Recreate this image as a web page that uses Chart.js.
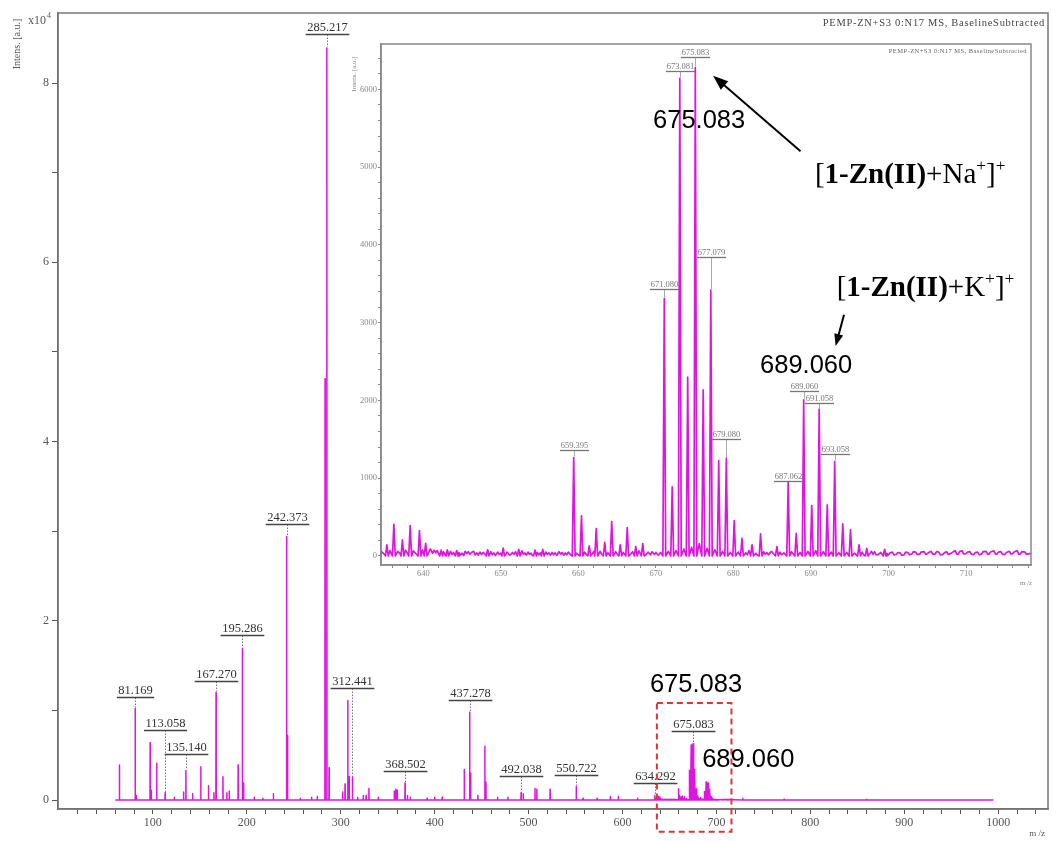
<!DOCTYPE html>
<html lang="en">
<head>
  <meta charset="UTF-8">
  <title>PEMP-ZN+S3 MS</title>
  <script src="https://cdn.jsdelivr.net/npm/chart.js"></script>
  <style>
    * { box-sizing: border-box; }
    body { margin: 0; background: #fff; }
    #wrap { position: relative; width: 1052px; height: 841px; }
    #main { position: absolute; left: 0; top: 0; }
    #inset { position: absolute; left: 340px; top: 36px; background: #fff; }
  </style>
</head>
<body>
  <div id="wrap">
    <canvas id="main" width="1052" height="841"></canvas>
    <canvas id="inset" width="705" height="560"></canvas>
  </div>

  <script>
    // ---- data (m/z, intensity in a.u.) ----
    const scanRange = [60, 995];

    const lowMassPeaks = [
      [64.4, 3900], [81.169, 10200], [82.4, 500], [97.1, 6400], [98.3, 1100], [104.1, 4100],
      [113.058, 800], [122.8, 300], [132.7, 900], [135.140, 3300], [142.3, 700], [151.0, 3700],
      [159.2, 1600], [165.0, 800], [167.270, 12000], [174.6, 2600], [178.8, 800], [181.3, 1000],
      [190.8, 3900], [195.286, 16900], [196.6, 1900], [208.0, 300], [217.0, 200], [228.3, 700],
      [242.373, 29400], [243.4, 7200], [257.0, 200], [269.0, 300], [275.0, 400], [283.3, 47000],
      [285.217, 83900], [287.6, 3600], [302.0, 900], [304.6, 1800], [307.5, 11100], [308.9, 2600],
      [312.441, 2600], [318.0, 300], [324.0, 500], [327.0, 500], [330.0, 1300], [340.0, 300],
      [357.0, 1000], [358.6, 1200], [360.2, 1100], [368.502, 1900], [371.0, 500], [374.0, 300],
      [392.0, 200], [400.0, 300], [408.0, 300], [431.5, 3400], [437.278, 9800], [438.3, 3000],
      [446.0, 500], [453.4, 6000], [454.6, 2000], [467.0, 300], [478.0, 300], [492.038, 800],
      [494.3, 700], [506.8, 1300], [508.8, 1200], [522.9, 1200], [550.722, 1500], [558.0, 200],
      [573.0, 200], [587.0, 400], [595.5, 400], [616.0, 200], [634.292, 500]
    ];

    const clusterPeaks = [
      [635.3, 142], [636.2, 408], [637.3, 206], [638.3, 390], [639.5, 326], [640.3, 163],
      [642.3, 75], [643.1, 80], [644.3, 70], [648.3, 80], [650.3, 100], [652.3, 85],
      [654.4, 75], [655.4, 85], [659.395, 1266], [660.4, 515], [661.4, 130], [662.3, 352],
      [663.4, 176], [664.3, 442], [665.4, 142], [666.3, 365], [667.4, 120], [668.3, 159],
      [671.080, 3310], [672.1, 890], [673.081, 6140], [674.1, 2300], [675.083, 6280],
      [676.1, 2136], [677.079, 3420], [678.1, 1225], [679.080, 1257], [680.1, 455],
      [681.1, 227], [682.4, 142], [683.5, 283], [685.6, 120], [687.062, 944], [688.1, 292],
      [689.060, 2008], [690.1, 648], [691.058, 1888], [692.1, 656], [693.058, 1214],
      [694.1, 412], [695.1, 335], [696.2, 142], [697.2, 99], [699.5, 86]
    ];

    const highMassPeaks = [[728.0, 200], [772.0, 100], [860.0, 80]];

    const baselineNoise = [
      [634.6, 55], [635.0, 20], [635.7, 70], [636.7, 60], [637.0, 30], [637.7, 75], [638.0, 25],
      [638.7, 65], [639.0, 35], [639.9, 80], [640.9, 90], [641.2, 35], [641.4, 75], [641.6, 40],
      [641.8, 70], [642.0, 20], [642.6, 55], [642.8, 15], [643.5, 60], [643.7, 20], [643.9, 45],
      [644.6, 45], [644.8, 10], [645.0, 35], [645.2, 5], [645.4, 60], [645.6, 30], [645.8, 55],
      [646.0, 20], [646.2, 45], [646.5, 60], [646.7, 15], [646.9, 40], [647.1, 10], [647.3, 50],
      [647.5, 20], [647.7, 45], [648.0, 20], [648.7, 55], [648.9, 15], [649.1, 40], [649.3, 5],
      [649.6, 50], [649.8, 20], [650.0, 35], [650.6, 15], [650.8, 50], [651.0, 25], [651.2, 10],
      [651.5, 45], [651.7, 20], [651.9, 55], [652.0, 30], [652.7, 65], [652.9, 20], [653.1, 40],
      [653.3, 10], [653.5, 50], [653.7, 20], [653.9, 35], [654.1, 5], [654.7, 45], [654.9, 15],
      [655.1, 40], [655.8, 50], [656.0, 20], [656.2, 40], [656.4, 10], [656.6, 45], [656.8, 15],
      [657.0, 40], [657.2, 10], [657.5, 55], [657.7, 25], [657.9, 45], [658.1, 10], [658.3, 40],
      [658.5, 15], [658.7, 50], [658.9, 25], [659.8, 35], [660.0, 15], [660.8, 50], [661.0, 20],
      [661.8, 30], [662.0, 60], [662.8, 60], [663.0, 25], [663.8, 40], [664.0, 15], [664.8, 55],
      [665.0, 25], [665.8, 45], [666.0, 20], [666.8, 30], [667.0, 55], [667.8, 65], [668.0, 30],
      [668.8, 25], [669.0, 50], [669.3, 15], [669.5, 55], [669.8, 20], [670.0, 45], [670.3, 10],
      [670.6, 45], [671.6, 60], [672.6, 70], [673.6, 90], [674.6, 110], [675.6, 160], [676.6, 100],
      [677.6, 80], [678.6, 60], [679.6, 45], [680.6, 50], [680.8, 20], [681.6, 40], [681.8, 15],
      [682.0, 70], [682.9, 35], [683.1, 10], [683.9, 55], [684.1, 20], [684.3, 45], [684.5, 15],
      [684.9, 60], [685.2, 25], [686.0, 50], [686.2, 15], [686.5, 40], [687.5, 55], [688.6, 45],
      [689.6, 60], [690.6, 70], [691.6, 55], [692.6, 50], [693.6, 40], [694.6, 45], [695.6, 35],
      [696.6, 50], [696.8, 15], [697.6, 30], [697.8, 60], [698.0, 20], [698.2, 55], [698.4, 15],
      [698.7, 20], [699.0, 45], [699.8, 35], [700.0, 15], [700.2, 40], [700.5, 50], [700.7, 15],
      [701.0, 20], [701.2, 45], [701.5, 40], [701.7, 10], [702.0, 15], [702.2, 50], [702.5, 45],
      [702.7, 15], [703.0, 25], [703.2, 55], [703.5, 50], [703.7, 20], [704.0, 20], [704.2, 50],
      [704.6, 55], [704.8, 20], [705.0, 30], [705.2, 45], [705.5, 60], [705.7, 25], [706.0, 25],
      [706.2, 55], [706.5, 50], [706.7, 15], [707.0, 20], [707.2, 40], [707.5, 55], [707.7, 20],
      [708.0, 30], [708.3, 50], [708.6, 70], [708.8, 25], [709.0, 25], [709.2, 60], [709.5, 65],
      [709.7, 25], [710.0, 30], [710.2, 50], [710.5, 55], [710.7, 20], [711.0, 20], [711.2, 45],
      [711.5, 50], [711.7, 15], [712.0, 25], [712.2, 55], [712.6, 60], [712.8, 20], [713.0, 30],
      [713.2, 55], [713.6, 65], [713.8, 25], [714.0, 25], [714.2, 50], [714.5, 55], [714.7, 20],
      [715.0, 20], [715.2, 45], [715.6, 60], [715.8, 25], [716.0, 30], [716.2, 50], [716.6, 70],
      [716.8, 25], [717.0, 25], [717.2, 55], [717.6, 50], [717.8, 20], [718.2, 30]
    ];

    // labelled peaks and the height of their label bar
    const mainLabelMz = [81.169, 113.058, 135.140, 167.270, 195.286, 242.373, 285.217,
                         312.441, 368.502, 437.278, 492.038, 550.722, 634.292, 675.083];
    const mainLabelLevel = [11520, 7800, 5130, 13300, 18400, 30800, 85440,
                            12500, 3270, 11150, 2700, 2800, 1860, 7730];
    const insetLabelMz = [659.395, 671.080, 673.081, 675.083, 677.079, 679.080,
                          687.062, 689.060, 691.058, 693.058];
    const insetLabelLevel = [1364, 3432, 6234, 6413, 3839, 1506, 969, 2115, 1973, 1313];

    // axes
    const mainXLabels = [100, 200, 300, 400, 500, 600, 700, 800, 900, 1000];
    const mainYLabels = [0, 20000, 40000, 60000, 80000];
    const insetXLabels = [640, 650, 660, 670, 680, 690, 700, 710];
    const insetYLabels = [0, 1000, 2000, 3000, 4000, 5000, 6000];

    const titleText = 'PEMP-ZN+S3 0:N17 MS, BaselineSubtracted';

    // ---- helpers ----
    const PEAK_HW = 0.18;
    const MAGENTA = '#e014e0';
    const SERIF = '"Liberation Serif", "Times New Roman", serif';
    const SANS = '"Liberation Sans", Arial, sans-serif';
    const allPeaks = lowMassPeaks.concat(clusterPeaks, highMassPeaks);

    function stepTicks(from, to, step) {
      const t = [];
      for (let v = from; v <= to + 1e-9; v += step) t.push(Math.round(v * 1000) / 1000);
      return t;
    }

    function spectrumPoints() {
      const pts = [{ x: scanRange[0], y: 0 }, { x: scanRange[1], y: 0 }];
      allPeaks.forEach(([mz, h]) => {
        pts.push({ x: mz - PEAK_HW, y: 0 }, { x: mz, y: h }, { x: mz + PEAK_HW, y: 0 });
      });
      baselineNoise.forEach(([mz, h]) => {
        if (!allPeaks.some(p => Math.abs(p[0] - mz) < PEAK_HW * 1.3)) pts.push({ x: mz, y: h });
      });
      return pts.sort((a, b) => a.x - b.x);
    }

    const peakHeight = mz => (allPeaks.find(p => Math.abs(p[0] - mz) < 0.001) || [mz, 0])[1];

    function drawPeakLabels(chart, mzs, levels, o) {
      const { ctx, scales: { x, y } } = chart;
      ctx.save();
      ctx.font = o.font;
      mzs.forEach((mz, i) => {
        const px = Math.round(x.getPixelForValue(mz)) + 0.5;
        const top = y.getPixelForValue(peakHeight(mz));
        const bar = Math.round(y.getPixelForValue(levels[i])) + 0.5;
        const txt = mz.toFixed(3);
        const w = ctx.measureText(txt).width + o.pad;
        ctx.strokeStyle = o.lineColor;
        ctx.lineWidth = 1;
        ctx.setLineDash(o.dash);
        ctx.beginPath(); ctx.moveTo(px, bar); ctx.lineTo(px, top - 1); ctx.stroke();
        ctx.setLineDash([]);
        ctx.strokeStyle = o.barColor;
        ctx.lineWidth = o.barWidth;
        ctx.beginPath(); ctx.moveTo(px - w / 2, bar); ctx.lineTo(px + w / 2, bar); ctx.stroke();
        ctx.fillStyle = o.textColor;
        ctx.textAlign = 'center';
        ctx.textBaseline = 'alphabetic';
        ctx.fillText(txt, px, bar - o.gap);
      });
      ctx.restore();
    }

    function drawRich(ctx, runs, x, y, size) {
      let cx = x;
      ctx.textAlign = 'left';
      ctx.textBaseline = 'alphabetic';
      runs.forEach(r => {
        const s = r.sup ? size * 0.6 : size;
        ctx.font = (r.bold ? 'bold ' : '') + s + 'px ' + SERIF;
        ctx.fillText(r.t, cx, r.sup ? y - size * 0.4 : y);
        cx += ctx.measureText(r.t).width;
      });
    }

    function drawArrow(ctx, x1, y1, x2, y2, head) {
      const a = Math.atan2(y2 - y1, x2 - x1);
      const c = Math.cos(a), s = Math.sin(a);
      ctx.beginPath();
      ctx.moveTo(x1, y1);
      ctx.lineTo(x2 - head * 0.8 * c, y2 - head * 0.8 * s);
      ctx.stroke();
      ctx.beginPath();
      ctx.moveTo(x2, y2);
      ctx.lineTo(x2 - head * c + head * 0.38 * s, y2 - head * s - head * 0.38 * c);
      ctx.lineTo(x2 - head * c - head * 0.38 * s, y2 - head * s + head * 0.38 * c);
      ctx.closePath();
      ctx.fill();
    }

    function frame(color, width) {
      return {
        id: 'frame',
        afterDraw(chart) {
          const { ctx, chartArea: a } = chart;
          ctx.save();
          ctx.strokeStyle = color;
          ctx.lineWidth = width;
          ctx.strokeRect(a.left, a.top, a.right - a.left, a.bottom - a.top);
          ctx.restore();
        }
      };
    }

    function axisOptions(o) {
      return {
        type: 'linear',
        min: o.min,
        max: o.max,
        afterBuildTicks: s => { s.ticks = o.ticks.map(v => ({ value: v })); },
        afterFit: o.fit,
        ticks: {
          autoSkip: false,
          maxRotation: 0,
          padding: o.padding,
          color: o.color,
          font: { family: SERIF, size: o.size },
          callback: o.label
        },
        grid: { drawOnChartArea: false, drawTicks: true, tickLength: o.tickLength, color: o.color, lineWidth: 1 },
        border: { color: o.border, width: 1.5 }
      };
    }

    const spectrum = spectrumPoints();

    // ---- main spectrum ----
    const mainNotes = {
      id: 'mainNotes',
      afterDraw(chart) {
        const { ctx, scales: { x, y } } = chart;
        drawPeakLabels(chart, mainLabelMz, mainLabelLevel, {
          font: '12.5px ' + SERIF, pad: 3, gap: 4, textColor: '#333',
          barColor: '#444', barWidth: 1.6, lineColor: '#777', dash: [1.5, 1.5]
        });
        ctx.save();
        // dashed box round the 675 cluster
        ctx.strokeStyle = '#e03434';
        ctx.lineWidth = 2;
        ctx.setLineDash([6, 4]);
        const bx1 = x.getPixelForValue(636.6), bx2 = x.getPixelForValue(716);
        const by1 = y.getPixelForValue(10820), by2 = y.getPixelForValue(-3537);
        ctx.strokeRect(bx1, by1, bx2 - bx1, by2 - by1);
        ctx.setLineDash([]);
        ctx.fillStyle = '#000';
        ctx.font = '25.5px ' + SANS;
        ctx.textAlign = 'left';
        ctx.fillText('675.083', x.getPixelForValue(629.2), y.getPixelForValue(12084));
        ctx.fillText('689.060', x.getPixelForValue(684.8), y.getPixelForValue(3715));
        // captions
        ctx.fillStyle = '#555';
        ctx.font = '10px ' + SERIF;
        ctx.save();
        ctx.translate(20, 44);
        ctx.rotate(-Math.PI / 2);
        ctx.textAlign = 'center';
        ctx.fillText('Intens. [a.u.]', 0, 0);
        ctx.restore();
        ctx.font = '12px ' + SERIF;
        ctx.fillText('x10', 28, 24);
        ctx.font = '8px ' + SERIF;
        ctx.fillText('4', 47, 18);
        ctx.font = '9px ' + SERIF;
        ctx.textAlign = 'center';
        ctx.fillText('m /z', 1037, 836);
        ctx.font = '10.5px ' + SERIF;
        ctx.textAlign = 'right';
        ctx.letterSpacing = '0.7px';
        ctx.fillStyle = '#444';
        ctx.fillText(titleText, 1045, 26);
        ctx.restore();
      }
    };

    new Chart(document.getElementById('main'), {
      type: 'line',
      data: {
        datasets: [{
          data: spectrum,
          borderColor: MAGENTA,
          borderWidth: 1.5,
          borderJoinStyle: 'round',
          pointRadius: 0,
          tension: 0,
          fill: false
        }]
      },
      options: {
        responsive: false,
        animation: false,
        events: [],
        parsing: false,
        layout: { padding: { left: 0, right: 4, top: 13, bottom: 0 } },
        plugins: { legend: { display: false }, tooltip: { enabled: false } },
        scales: {
          x: axisOptions({
            min: -1, max: 1053, ticks: stepTicks(20, 1040, 20), padding: 2, size: 12,
            color: '#555', border: '#666', tickLength: 5,
            fit: s => { s.height = 32; },
            label: v => mainXLabels.includes(v) ? String(v) : ''
          }),
          y: axisOptions({
            min: -1000, max: 87810, ticks: stepTicks(0, 80000, 10000), padding: 3, size: 12,
            color: '#555', border: '#666', tickLength: 6,
            fit: s => { s.width = 58; },
            label: v => mainYLabels.includes(v) ? String(v / 10000) : ''
          })
        }
      },
      plugins: [frame('#777', 1.5), mainNotes]
    });

    // ---- inset: zoom on the 675 cluster ----
    const insetNotes = {
      id: 'insetNotes',
      afterDraw(chart) {
        const { ctx, scales: { x, y } } = chart;
        drawPeakLabels(chart, insetLabelMz, insetLabelLevel, {
          font: '8.5px ' + SERIF, pad: 1.5, gap: 2.5, textColor: '#777',
          barColor: '#777', barWidth: 1.3, lineColor: '#aaa', dash: []
        });
        ctx.save();
        ctx.fillStyle = '#000';
        ctx.strokeStyle = '#000';
        ctx.lineWidth = 2;
        ctx.font = '25.5px ' + SANS;
        ctx.textAlign = 'left';
        ctx.fillText('675.083', x.getPixelForValue(669.63), y.getPixelForValue(5506));
        ctx.fillText('689.060', x.getPixelForValue(683.43), y.getPixelForValue(2353));
        drawRich(ctx, [{ t: '[' }, { t: '1-Zn(II)', bold: true }, { t: '+Na' }, { t: '+', sup: true },
                       { t: ']' }, { t: '+', sup: true }],
                 x.getPixelForValue(690.51), y.getPixelForValue(4796), 29);
        drawRich(ctx, [{ t: '[' }, { t: '1-Zn(II)', bold: true }, { t: '+K' }, { t: '+', sup: true },
                       { t: ']' }, { t: '+', sup: true }],
                 x.getPixelForValue(693.31), y.getPixelForValue(3343), 29);
        drawArrow(ctx, x.getPixelForValue(688.65), y.getPixelForValue(5205),
                  x.getPixelForValue(677.38), y.getPixelForValue(6176), 15);
        drawArrow(ctx, x.getPixelForValue(694.26), y.getPixelForValue(3101),
                  x.getPixelForValue(693.18), y.getPixelForValue(2700), 12);
        // captions
        ctx.fillStyle = '#888';
        ctx.font = '7px ' + SERIF;
        ctx.save();
        ctx.translate(16, 38);
        ctx.rotate(-Math.PI / 2);
        ctx.textAlign = 'center';
        ctx.fillText('Intens. [a.u.]', 0, 0);
        ctx.restore();
        ctx.textAlign = 'center';
        ctx.fillText('m /z', 686, 549);
        ctx.textAlign = 'right';
        ctx.letterSpacing = '0.45px';
        ctx.fillStyle = '#666';
        ctx.font = '6.5px ' + SERIF;
        ctx.fillText(titleText, 687, 17);
        ctx.restore();
      }
    };

    new Chart(document.getElementById('inset'), {
      type: 'line',
      data: {
        datasets: [{
          data: spectrum,
          borderColor: MAGENTA,
          borderWidth: 1.7,
          borderJoinStyle: 'round',
          pointRadius: 0,
          tension: 0,
          fill: false
        }]
      },
      options: {
        responsive: false,
        animation: false,
        events: [],
        parsing: false,
        layout: { padding: { left: 0, right: 14, top: 8, bottom: 0 } },
        plugins: { legend: { display: false }, tooltip: { enabled: false } },
        scales: {
          x: axisOptions({
            min: 634.54, max: 718.38, ticks: stepTicks(636, 718, 2), padding: 1, size: 8.5,
            color: '#888', border: '#888', tickLength: 3,
            fit: s => { s.height = 31; },
            label: v => insetXLabels.includes(v) ? String(v) : ''
          }),
          y: axisOptions({
            min: -116, max: 6583, ticks: stepTicks(0, 6400, 200), padding: 1, size: 8.5,
            color: '#888', border: '#888', tickLength: 3,
            fit: s => { s.width = 41; },
            label: v => insetYLabels.includes(v) ? String(v) : ''
          })
        }
      },
      plugins: [frame('#888', 1.5), insetNotes]
    });
  </script>
</body>
</html>
